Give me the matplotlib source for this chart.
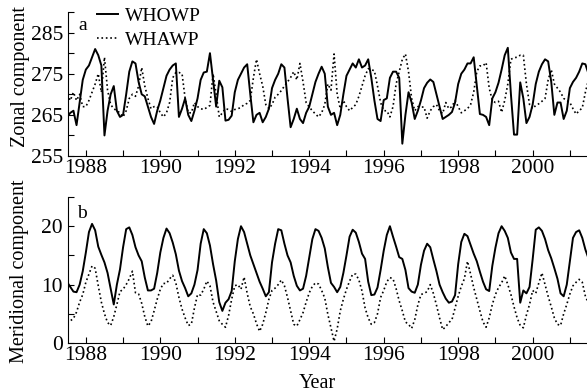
import numpy as np
import matplotlib
matplotlib.use('Agg')
import matplotlib.pyplot as plt
from matplotlib.ticker import MultipleLocator

plt.rcParams['font.family'] = ['Liberation Serif', 'DejaVu Serif']

# monthly series, July 1987 onwards
zonal_whowp = [264.5, 265.5, 266, 262.5, 268, 273.5,
               276, 277, 279, 281, 279.5, 277, 260, 266, 270, 272, 266, 264.5,
               265, 270, 275.5, 278, 277.5, 273, 270, 269.5, 267, 264.5, 262.8, 266,
               268.5, 271.5, 274.5, 276, 277, 277.5, 264.5, 266.5, 269, 265, 263.5, 266,
               269, 273.5, 275.3, 275.5, 280, 273.5, 267, 273.3, 271.7, 263.6, 263.8, 264.8,
               270.5, 273.5, 275, 276.5, 277.3, 270, 263.2, 265, 265.5, 263.2, 264.5, 266.5,
               271.5, 273.5, 275, 277.3, 276.5, 269, 262, 264, 266.5, 264, 263, 265.5,
               267, 270, 273, 275, 276.7, 275, 267, 265, 265.5, 262.5, 265, 270,
               274.5, 276, 277.5, 276.5, 278.5, 276.5, 277, 278.5, 274, 268.5, 264, 263.5,
               268.6, 269, 274, 275.5, 275.5, 274, 258, 265, 270.5, 268, 264, 266,
               268.5, 271.5, 272.8, 273.6, 273, 270, 267, 264, 264.5, 265, 265.7, 268,
               272.5, 275, 276, 277.5, 277.5, 279, 272, 265.2, 265, 264.5, 262.5, 269,
               270.5, 272.8, 276, 279.5, 281.3, 270, 260.2, 260.2, 272.9, 269, 263, 264.5,
               267.5, 272.5, 275.5, 277.3, 278.5, 278, 273, 265, 268, 268, 264, 266,
               271.5, 273, 274, 275.5, 277.5, 277.3, 275]
zonal_whawp = [270, 268.5, 270.5, 268.5, 270, 267,
               267, 268.5, 270.5, 272.5, 275, 270.5, 279, 271, 267.5, 266.5, 266, 265.5,
               264.5, 266, 269, 270, 269.5, 272, 276.5, 272, 269, 266.5, 267, 267,
               265.5, 264.5, 265.5, 268, 274, 275.3, 275.3, 275, 269, 265.5, 265.5, 268,
               267, 266.5, 266.3, 266.8, 267.3, 275, 270, 264.5, 265.5, 266.5, 266.3, 265.8,
               266.3, 266.5, 266.8, 267.5, 267.8, 268.5, 274, 278.5, 275, 272, 267.5, 266.5,
               267.5, 269.3, 270, 270.9, 272, 273, 274.1, 275.5, 273.5, 277.5, 273, 268,
               266.9, 266, 265.2, 264.5, 265.5, 267.5, 272.5, 271, 279.8, 270, 266.5, 268.5,
               267, 266, 266.8, 267.5, 269.5, 272, 274.5, 276.2, 276, 275.7, 272, 268,
               266, 266, 264.5, 267, 272.5, 275.5, 278.5, 279.8, 275.5, 269, 266, 267,
               266.9, 266.9, 264.2, 266, 267, 267.5, 266, 265.3, 268, 266.5, 267, 268.5,
               267, 265.5, 266, 266.5, 267.5, 270.5, 275.5, 276.9, 276.9, 277.7, 271.5, 268.5,
               268, 268.3, 265.6, 268.5, 272.5, 278.5, 278.9, 279, 279.5, 279.5, 272.5, 267.5,
               266.5, 267.3, 267.7, 268.3, 269, 273.5, 276, 272.5, 271.5, 270.5, 269, 268.5,
               268, 266.5, 265.2, 266, 266.7, 270.5, 273.5]
merid_whowp = [10.4, 9.6, 8.8, 8.7, 10, 12.3,
               15.5, 19, 20.4, 19.3, 16.5, 15.1, 13.8, 12, 9.3, 6.6, 10, 12.6,
               16.4, 19.5, 19.8, 18.5, 16.4, 15, 14, 11.2, 9, 9, 9.3, 12,
               15.5, 18, 19.6, 18.8, 17.2, 15.2, 12.4, 10.6, 9.4, 8, 8.5, 10,
               12.5, 17, 19.5, 18.8, 16.7, 13.5, 10.7, 7, 5.5, 6.9, 7.5, 8.9,
               14, 17.8, 20, 19, 17, 15, 13.5, 12, 10.5, 9.3, 8, 8.7,
               13.8, 17, 19.5, 19.3, 17, 15, 13.8, 11.5, 9.8, 9, 9.3, 11.5,
               14.7, 17.8, 19.5, 19.2, 18, 16.2, 13, 10.3, 9.6, 8.7, 9.6, 12,
               15, 18.2, 19.4, 18.9, 17.3, 15.3, 14.4, 10.5, 8.2, 8.3, 9.5, 12.5,
               15.8, 18.5, 20, 18.2, 16.5, 14.7, 14.4, 12.5, 9.4, 8.8, 8.6, 10,
               13.4, 15.8, 17, 16.4, 14.3, 12.3, 10, 8.7, 7.6, 6.9, 7.1, 8.2,
               13.5, 17.3, 18.7, 18.3, 16.8, 15.3, 14, 12.2, 10.5, 9.2, 8.9, 13.2,
               16.3, 18.8, 20, 19.2, 18, 15.5, 14.4, 14.4, 6.9, 9, 8.5, 9.6,
               14.3, 19.4, 19.8, 19.2, 17.8, 15.9, 14.5, 12.8, 11, 8.5, 8, 10,
               14, 18, 19, 19.3, 18, 16, 14.5]
merid_whawp = [3.4, 3.8, 4.2, 5.3, 7, 8.3,
               10.4, 11.8, 13.2, 12.8, 9.8, 7, 5, 3.5, 3, 4.5, 6.6, 8.8,
               9.2, 10, 11, 12.3, 8.6, 8.4, 6.8, 4.5, 2.9, 3.6, 5.5, 7.5,
               9.2, 10.2, 10.2, 11, 11.6, 10.3, 7.8, 5.8, 4.3, 3, 3.2, 6,
               8.3, 8.2, 9.2, 10.6, 9.8, 7, 5.4, 3.8, 3.2, 2.7, 4.7, 7.5,
               9.8, 10, 9.2, 11.3, 8.5, 6.2, 5, 3.3, 2, 3.2, 5.2, 7.5,
               9, 9.4, 10, 10.8, 9.8, 7.8, 5.5, 3.2, 2.9, 4, 5.2, 7,
               8.6, 9.7, 10.3, 10.1, 9, 7.7, 4.9, 2.6, 0.3, 2.4, 5.5, 7.5,
               9.2, 10.6, 11.8, 11.8, 10.8, 8.9, 6, 4.3, 3.2, 3.5, 5, 7.8,
               9, 10.5, 11.2, 11, 9.3, 7.2, 5.5, 3.6, 3.2, 2.5, 4, 6.5,
               8.3, 8.5, 8.8, 10, 8.5, 6.5, 4.3, 2.3, 2.8, 3.5, 4, 6,
               8, 9.7, 11, 14, 11.8, 9.5, 7.5, 5.5, 3.6, 2.7, 4.3, 6.6,
               8.3, 9.5, 10.3, 11.5, 10, 8.3, 6.2, 4.3, 3, 2.6, 4.8, 6.6,
               9, 8.5, 10.3, 12, 10, 8, 6.2, 4.3, 3.2, 3, 5, 6.6,
               8.4, 9.8, 10.4, 10.9, 10.4, 8, 6.8]

t = 1987.5 + np.arange(len(zonal_whowp)) / 12.0

fig = plt.figure(figsize=(5.87, 3.92), dpi=100)
ax1 = fig.add_axes([0.1158, 0.602, 0.8842, 0.3674])
ax2 = fig.add_axes([0.1158, 0.125, 0.8842, 0.3724])

ax1.plot(t, zonal_whowp, color='black', lw=1.4, label='WHOWP')
ax1.plot(t, zonal_whawp, color='black', lw=1.2, ls=':', label='WHAWP')
ax2.plot(t, merid_whowp, color='black', lw=1.4)
ax2.plot(t, merid_whawp, color='black', lw=1.2, ls=':')

ax1.set_ylim(255, 290)
ax1.yaxis.set_minor_locator(MultipleLocator(5))
ax1.set_yticks([255, 265, 275, 285])
ax2.set_ylim(0, 25)
ax2.yaxis.set_major_locator(MultipleLocator(10))
ax2.yaxis.set_minor_locator(MultipleLocator(5))

for ax in (ax1, ax2):
    ax.set_xlim(1987.52, 2001.46)
    ax.xaxis.set_major_locator(MultipleLocator(2))
    ax.xaxis.set_minor_locator(MultipleLocator(1))
    ax.spines['top'].set_visible(False)
    ax.spines['right'].set_visible(False)
    ax.tick_params(which='both', direction='in', length=4, width=0.8, labelsize=15.5)
    ax.tick_params(axis='x', pad=2)
    ax.tick_params(axis='y', pad=3.5)

ax1.set_ylabel('Zonal component', fontsize=14.5)
ax1.yaxis.set_label_coords(-0.073, 0.555)
ax2.set_ylabel('Meridional component', fontsize=14.5)
ax2.yaxis.set_label_coords(-0.075, 0.49)
ax2.set_xlabel('Year', fontsize=14.5)
ax2.xaxis.set_label_coords(0.48, -0.21)

ax1.text(0.029, 0.903, 'a', transform=ax1.transAxes, fontsize=14, ha='center', va='center')
ax2.text(0.027, 0.89, 'b', transform=ax2.transAxes, fontsize=14, ha='center', va='center')

ax1.legend(loc='upper left', bbox_to_anchor=(0.056, 1.035), frameon=False, fontsize=14,
           handlelength=1.1, handletextpad=0.35, labelspacing=0.34, borderpad=0, borderaxespad=0)

plt.savefig('out.png', dpi=100)
